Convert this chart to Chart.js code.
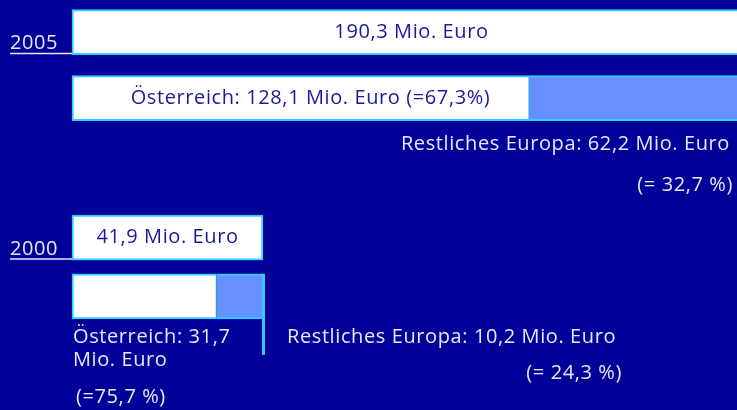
<!DOCTYPE html>
<html>
<head>
<meta charset="utf-8">
<script src="https://cdn.jsdelivr.net/npm/chart.js@4"></script>
<style>
  html, body { margin: 0; padding: 0; background: #000099; }
  #wrap { width: 737px; height: 410px; position: relative; }
</style>
</head>
<body>
<div id="wrap"><canvas id="exportChart"></canvas></div>
<script>
// Exportvolumen in Mio. Euro
const years = ['2005', '2000'];
const totals = [190.3, 41.9];
const austria = [128.1, 31.7];
const restEurope = [62.2, 10.2];

// rows on the category axis: fine slots, most of them empty spacing
const totalRow = [0, 28];
const splitRow = [9, 36];
const slots = Array.from({ length: 37 }, (_, i) =>
    totalRow.includes(i) ? years[totalRow.indexOf(i)] :
    splitRow.includes(i) ? years[splitRow.indexOf(i)] + ' Aufteilung' : '');

const WHITE = '#ffffff', BLUE = '#6690ff', CYAN = '#33ccff', INK = '#1a1a99', PALE = '#e8e8f8';
const FONT = '20px "Open Sans", sans-serif';

const fmt = v => v.toFixed(1).replace('.', ',');
const pct = (a, b) => fmt(a / b * 100);

function slotData(row, v) {
    const d = slots.map(() => null);
    d[row] = v;
    return d;
}

function ds(label, row, v, color, axis, bw) {
    return {
        label, data: slotData(row, v), backgroundColor: color, borderColor: CYAN,
        borderWidth: bw, borderSkipped: false, barThickness: 45, grouped: false,
        clip: false, xAxisID: axis, stack: 's' + row
    };
}

const labelPlugin = {
    id: 'labels',
    afterDatasetsDraw(chart) {
        const c = chart.ctx, area = chart.chartArea;
        const el = (i, row) => chart.getDatasetMeta(i).data[row];
        c.save();
        c.font = FONT;
        c.letterSpacing = '0.6px';
        c.textBaseline = 'middle';

        const text = (t, x, y, col, align) => { c.fillStyle = col; c.textAlign = align; c.fillText(t, x, y); };

        // year labels with underline
        [0, 3].forEach((i, k) => {
            const b = el(i, totalRow[k]);
            const bottom = b.y + b.height / 2;
            text(years[k], 10, bottom - 11, PALE, 'left');
            c.strokeStyle = PALE; c.lineWidth = 1.5;
            c.beginPath(); c.moveTo(10, bottom - 1); c.lineTo(b.base, bottom - 1); c.stroke();
            const cx = (Math.min(b.x, 751) + b.base) / 2;
            text(fmt(totals[k]) + ' Mio. Euro', cx, b.y, INK, 'center');
        });

        // 2005 split
        let a = el(1, splitRow[0]);
        let bot = a.y + a.height / 2;
        text('Österreich: ' + fmt(austria[0]) + ' Mio. Euro (=' + pct(austria[0], totals[0]) + '%)', (a.x + a.base) / 2 + 10, a.y, INK, 'center');
        text('Restliches Europa: ' + fmt(restEurope[0]) + ' Mio. Euro', area.right - 7, bot + 24, PALE, 'right');
        text('(= ' + pct(restEurope[0], totals[0]) + ' %)', area.right - 4, bot + 65, PALE, 'right');

        // 2000 split
        a = el(4, splitRow[1]);
        const r = el(5, splitRow[1]);
        bot = a.y + a.height / 2;
        c.fillStyle = CYAN;
        c.fillRect(r.x - 1, a.y - a.height / 2, 3, a.height + 36);
        text('Österreich: ' + fmt(austria[1]), a.base + 1, bot + 18, PALE, 'left');
        text('Mio. Euro', a.base + 1, bot + 41, PALE, 'left');
        text('(=' + pct(austria[1], totals[1]) + ' %)', a.base + 4, bot + 78, PALE, 'left');
        text('Restliches Europa: ' + fmt(restEurope[1]) + ' Mio. Euro', r.x + 24, bot + 18, PALE, 'left');
        text('(= ' + pct(restEurope[1], totals[1]) + ' %)', 622, bot + 54, PALE, 'right');
        c.restore();
    }
};

new Chart(document.getElementById('exportChart'), {
    type: 'bar',
    data: {
        labels: slots,
        datasets: [
            ds('Gesamt 2005', totalRow[0], totals[0], WHITE, 'x', 2),
            ds('Österreich 2005', splitRow[0], austria[0], WHITE, 'x', { top: 2, bottom: 2, left: 2, right: 1 }),
            ds('Restliches Europa 2005', splitRow[0], restEurope[0], BLUE, 'x', { top: 2, bottom: 2, left: 0, right: 2 }),
            ds('Gesamt 2000', totalRow[1], totals[1], WHITE, 'x2', 2),
            ds('Österreich 2000', splitRow[1], austria[1], WHITE, 'x2', { top: 2, bottom: 2, left: 2, right: 1 }),
            ds('Restliches Europa 2000', splitRow[1], restEurope[1], BLUE, 'x2', { top: 2, bottom: 2, left: 0, right: 0 })
        ]
    },
    options: {
        indexAxis: 'y',
        responsive: true,
        maintainAspectRatio: false,
        animation: false,
        layout: { padding: { left: 72, right: 0, top: 28.4, bottom: 110 } },
        scales: {
            y: { display: false, stacked: true, offset: true },
            x: { display: false, stacked: true, min: 0, max: 186.4 },
            x2: { display: false, stacked: true, min: 0, max: 145.9 }
        },
        plugins: { legend: { display: false }, tooltip: { enabled: false } }
    },
    plugins: [labelPlugin]
});
</script>
</body>
</html>
